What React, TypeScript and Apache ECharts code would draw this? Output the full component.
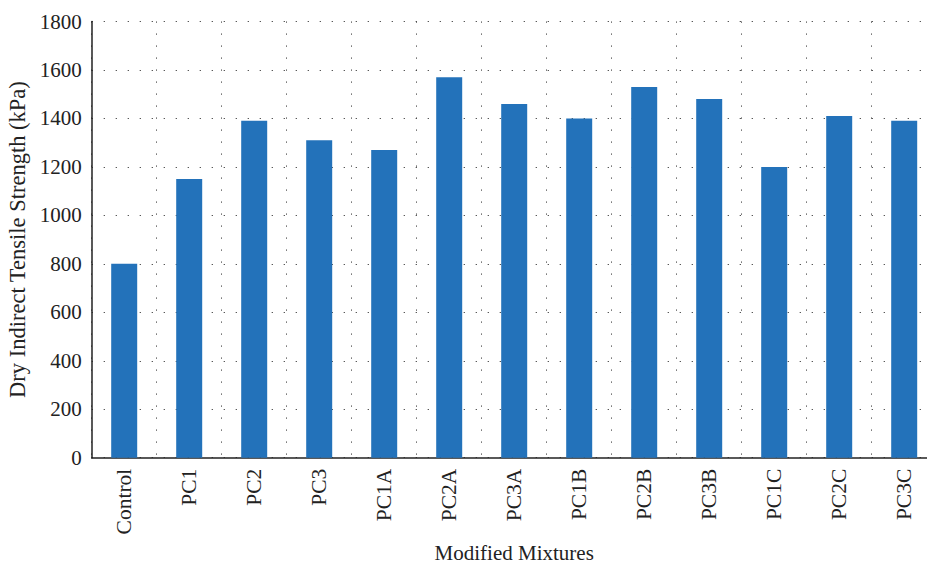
import React, { useEffect, useRef } from "react";
import * as echarts from "echarts";

const categories = ["Control", "PC1", "PC2", "PC3", "PC1A", "PC2A", "PC3A", "PC1B", "PC2B", "PC3B", "PC1C", "PC2C", "PC3C"];
const strengthValues = [800, 1150, 1390, 1310, 1270, 1570, 1460, 1400, 1530, 1480, 1200, 1410, 1390];
const yTicks = { min: 0, max: 1800, interval: 200 };
const xTitle = "Modified Mixtures";
const yTitle = "Dry Indirect Tensile Strength (kPa)";

const FONT = "Liberation Serif";

export default function App() {
  const ref = useRef<HTMLDivElement>(null);
  useEffect(() => {
    if (!ref.current) return;
    const chart = echarts.init(ref.current, null, { renderer: "svg" });
    const dotted = { color: "#444", width: 1, type: [1.2, 10.8] as any };
    chart.setOption({
      animation: false,
      backgroundColor: "#ffffff",
      grid: {
        left: 91.7,
        right: -9.7,
        top: 21.5,
        bottom: 106.3,
        containLabel: false,
        outerBoundsMode: "none",
      },
      xAxis: {
        type: "category",
        data: categories,
        boundaryGap: true,
        name: xTitle,
        nameLocation: "middle",
        nameGap: 84,
        nameTextStyle: { fontFamily: FONT, fontSize: 21, lineHeight: 21, color: "#222" },
        axisLine: { show: true, lineStyle: { color: "#222", width: 1.5 } },
        axisTick: { show: false },
        axisLabel: { rotate: 90, margin: 11, fontFamily: FONT, fontSize: 21.5, color: "#222", interval: 0 },
        splitLine: { show: true, lineStyle: dotted },
      },
      yAxis: {
        type: "value",
        min: yTicks.min,
        max: yTicks.max,
        interval: yTicks.interval,
        name: yTitle,
        nameLocation: "middle",
        nameGap: 59,
        nameTextStyle: { fontFamily: FONT, fontSize: 22.5, color: "#222" },
        axisLine: { show: true, lineStyle: { color: "#222", width: 1.5 } },
        axisTick: { show: false },
        axisLabel: {
          margin: 10,
          fontFamily: FONT,
          fontSize: 21,
          color: "#222",
          formatter: (v: number) => String(v),
        },
        splitLine: { show: true, lineStyle: dotted },
      },
      series: [
        {
          type: "bar",
          data: strengthValues,
          barWidth: 26,
          itemStyle: { color: "#2372ba" },
        },
      ],
    });
    return () => chart.dispose();
  }, []);
  return (
    <div
      ref={ref}
      style={{ position: "fixed", left: 0, top: 0, width: 927, height: 564, background: "#fff" }}
    />
  );
}
